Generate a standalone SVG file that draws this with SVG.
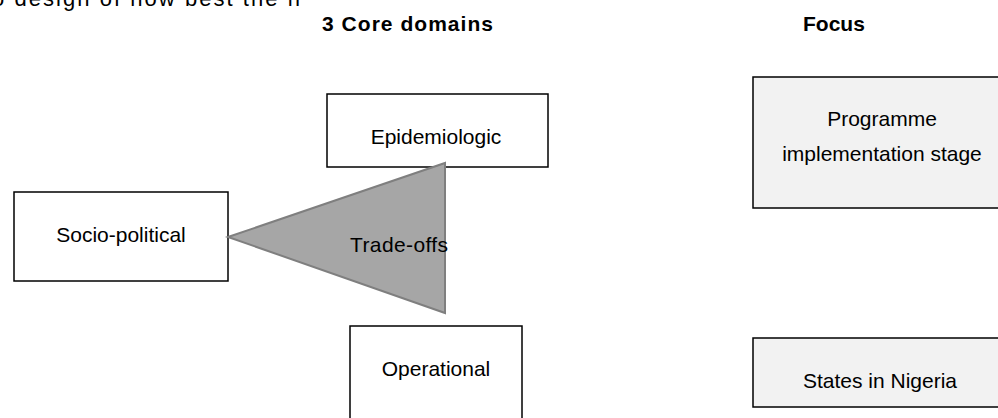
<svg xmlns="http://www.w3.org/2000/svg" width="998" height="418" viewBox="0 0 998 418">
<style>
text{font-family:"Liberation Sans",Arial,sans-serif;font-size:21px;fill:#000}
.t{text-anchor:middle}
.h{font-weight:bold}
.box{fill:#fff;stroke:#000;stroke-width:1.5}
.gbox{fill:#f2f2f2;stroke:#000;stroke-width:1.5}
</style>
<rect width="998" height="418" fill="#fff"/>
<text x="-8" y="6" style="font-size:22px" textLength="308">o design of how best the n</text>
<text class="h" x="322" y="31" textLength="171">3 Core domains</text>
<text class="h" x="803" y="31">Focus</text>
<g id="epidemiologic">
<rect class="box" x="327" y="94" width="221" height="73"/>
<text class="t" x="436" y="144">Epidemiologic</text>
</g>
<g id="socio-political">
<rect class="box" x="14" y="192" width="214" height="89"/>
<text class="t" x="121" y="242">Socio-political</text>
</g>
<g id="operational">
<rect class="box" x="350" y="326" width="172" height="100"/>
<text class="t" x="436" y="376">Operational</text>
</g>
<g id="trade-offs">
<polygon points="228,237 445,163 445,313" fill="#a6a6a6" stroke="#7f7f7f" stroke-width="2"/>
<text x="350" y="252" textLength="98">Trade-offs</text>
</g>
<g id="programme">
<rect class="gbox" x="753" y="77" width="270" height="131"/>
<text class="t" x="882" y="126">Programme</text>
<text class="t" x="882" y="161">implementation stage</text>
</g>
<g id="states">
<rect class="gbox" x="753" y="338" width="270" height="69"/>
<text class="t" x="880" y="388">States in Nigeria</text>
</g>
<g id="connectors"></g>
</svg>
